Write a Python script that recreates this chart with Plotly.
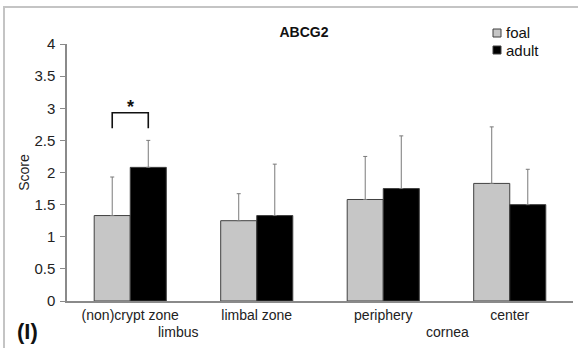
import plotly.graph_objects as go

categories = ["(non)crypt zone", "limbal zone", "periphery", "center"]
foal = [1.33, 1.25, 1.58, 1.83]
foal_err_top = [1.93, 1.67, 2.25, 2.71]
adult = [2.08, 1.33, 1.75, 1.50]
adult_err_top = [2.50, 2.13, 2.57, 2.05]
y_ticks = [0, 0.5, 1, 1.5, 2, 2.5, 3, 3.5, 4]
group_labels = ["limbus", "cornea"]
series_names = ["foal", "adult"]
series_colors = ["#c6c6c6", "#000000"]
sig_pair = 0          # category index with significant difference
sig_top = 2.93        # bracket level
sig_leg = 2.69        # bracket leg bottom

BARGAP = 0.43
FONT = "Liberation Sans, Arial, sans-serif"
W, H = 578, 348
ML, MR, MT, MB = 67, 5, 44, 47
PW, PH = W - ML - MR, H - MT - MB


def px_x(x):
    return (x - ML) / PW


def px_y(y):
    return (H - MB - y) / PH


fig = go.Figure()
for name, vals, tops, col in [(series_names[0], foal, foal_err_top, series_colors[0]),
                              (series_names[1], adult, adult_err_top, series_colors[1])]:
    fig.add_trace(go.Bar(
        name=name, x=categories, y=vals, showlegend=False,
        marker=dict(color=col, line=dict(color="#404040", width=1)),
        error_y=dict(type="data", symmetric=False,
                     array=[t - v for t, v in zip(tops, vals)],
                     arrayminus=[0] * len(vals),
                     color="#7a7a7a", thickness=1, width=2),
    ))

# significance bracket between the two bar centres of the chosen category
half = (1 - BARGAP) / 4
xl, xr = sig_pair - half, sig_pair + half
fig.add_shape(type="path",
              path=f"M {xl},{sig_leg} L {xl},{sig_top} L {xr},{sig_top} L {xr},{sig_leg}",
              xref="x", yref="y", line=dict(color="#111111", width=1.6))
fig.add_annotation(x=sig_pair, y=sig_top, xref="x", yref="y", text="<b>*</b>",
                   showarrow=False, yanchor="bottom", yshift=-6,
                   font=dict(family=FONT, size=18, color="#111"))

# outer frame
fig.add_shape(type="rect", xref="paper", yref="paper",
              x0=px_x(4), y0=-0.4, x1=1.2, y1=px_y(7),
              line=dict(color="#c4c4c4", width=2))

# manual legend (compact rows like the original)
for i, (name, col) in enumerate(zip(series_names, series_colors)):
    cy = 33 + 17 * i
    fig.add_shape(type="rect", xref="paper", yref="paper",
                  x0=px_x(493), x1=px_x(501), y0=px_y(cy + 4), y1=px_y(cy - 4),
                  fillcolor=col, line=dict(color="#404040", width=1))
    fig.add_annotation(x=px_x(504), y=px_y(cy), xref="paper", yref="paper",
                       text=name, showarrow=False, xanchor="left", yanchor="middle",
                       font=dict(family=FONT, size=15, color="#111"))

# group labels
fig.add_annotation(x=px_x(178), y=px_y(332), xref="paper", yref="paper",
                   text=group_labels[0], showarrow=False, xanchor="center", yanchor="middle",
                   font=dict(family=FONT, size=14, color="#222"))
fig.add_annotation(x=px_x(447), y=px_y(332), xref="paper", yref="paper",
                   text=group_labels[1], showarrow=False, xanchor="center", yanchor="middle",
                   font=dict(family=FONT, size=14, color="#222"))
fig.add_annotation(x=px_x(27), y=px_y(331), xref="paper", yref="paper",
                   text="<b>(I)</b>", showarrow=False, xanchor="center", yanchor="middle",
                   font=dict(family=FONT, size=22, color="#111"))

fig.update_layout(
    width=W, height=H,
    margin=dict(l=ML, r=MR, t=MT, b=MB),
    paper_bgcolor="white", plot_bgcolor="white",
    barmode="group", bargap=BARGAP, bargroupgap=0,
    font=dict(family=FONT, size=14, color="#222"),
    title=dict(text="<b>ABCG2</b>", x=304 / W, xanchor="center",
               y=1 - 32 / H, yanchor="middle",
               font=dict(family=FONT, size=14, color="#111")),
    showlegend=False,
    xaxis=dict(showline=True, linecolor="#8a8a8a", linewidth=1.5,
               ticks="", showgrid=False, tickfont=dict(size=14)),
    yaxis=dict(range=[0, 4], tickvals=y_ticks, showline=True,
               linecolor="#8a8a8a", linewidth=1.5, ticks="outside",
               ticklen=5, tickcolor="#8a8a8a", showgrid=False, zeroline=False,
               ticklabelstandoff=2,
               title=dict(text="Score", standoff=1, font=dict(size=14)),
               tickfont=dict(size=15)),
)

fig.write_html("out.html", config={"displayModeBar": False},
               post_script="document.body.style.margin='0';")
